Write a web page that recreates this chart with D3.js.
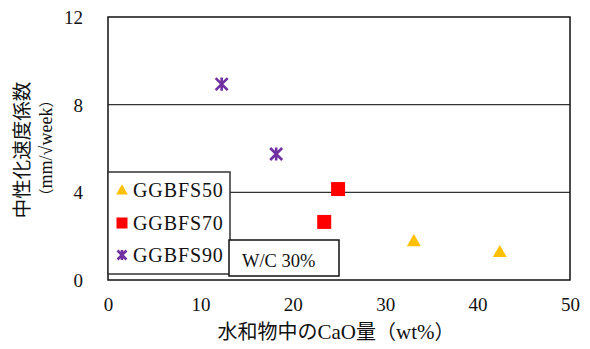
<!DOCTYPE html>
<html><head><meta charset="utf-8">
<script src="https://cdn.jsdelivr.net/npm/d3@7"></script>
<style>body{margin:0;background:#fff;} svg{display:block;}</style>
</head><body>
<script>
const xTicks = [0, 10, 20, 30, 40, 50];
const yTicks = [0, 4, 8, 12];
const gridValues = [4, 8];
const seriesNames = ["GGBFS50", "GGBFS70", "GGBFS90"];
const ggbfs50X = [33.1, 42.4], ggbfs50Y = [1.73, 1.23];
const ggbfs70X = [24.9, 23.4], ggbfs70Y = [4.15, 2.65];
const ggbfs90X = [12.3, 18.2], ggbfs90Y = [8.94, 5.75];
const noteText = "W/C 30%";

const W = 590, H = 349;
const m = {l:108, r:570, t:17, b:280};
const serif = "'Liberation Serif','DejaVu Serif',serif";
const cjk = "'Noto Sans CJK JP','Noto Sans CJK SC',sans-serif";
const svg = d3.select("body").append("svg").attr("width", W).attr("height", H);
const x = d3.scaleLinear().domain([0,50]).range([m.l, m.r]);
const y = d3.scaleLinear().domain([0,12]).range([m.b, m.t]);

// gridlines
svg.append("g").selectAll("line").data(gridValues).join("line")
  .attr("x1", m.l).attr("x2", m.r).attr("y1", d=>y(d)).attr("y2", d=>y(d))
  .attr("stroke", "#333").attr("stroke-width", 1.3);

// frame
svg.append("rect").attr("x", m.l).attr("y", m.t).attr("width", m.r-m.l).attr("height", m.b-m.t)
  .attr("fill","none").attr("stroke","#111").attr("stroke-width",1.5);

// axes (labels only)
const xAxis = d3.axisBottom(x).tickValues(xTicks).tickSize(0).tickPadding(0);
const gx = svg.append("g").attr("transform", `translate(0,${m.b+31})`).call(xAxis);
gx.select(".domain").remove();
gx.selectAll("text").attr("dy", 0).attr("font-family", serif).attr("font-size", 19).attr("fill","#111");
const yAxis = d3.axisLeft(y).tickValues(yTicks).tickSize(0).tickPadding(0);
const gy = svg.append("g").attr("transform", `translate(83,0)`).call(yAxis);
gy.select(".domain").remove();
gy.selectAll("text").attr("dy", "0.34em").attr("font-family", serif).attr("font-size", 19).attr("fill","#111");

// markers
const colors = {tri:"#FFC000", sq:"#FF0000", star:"#7030A0"};
function tri(g, cx, cy, s){ g.append("path").attr("d", d3.symbol(d3.symbolTriangle, s)()).attr("transform",`translate(${cx},${cy})`).attr("fill",colors.tri); }
function sq(g, cx, cy, s){ g.append("rect").attr("x",cx-s/2).attr("y",cy-s/2).attr("width",s).attr("height",s).attr("fill",colors.sq); }
function star(g, cx, cy, r){
  g.append("path").attr("d",`M${cx-r},${cy-r}L${cx+r},${cy+r}M${cx-r},${cy+r}L${cx+r},${cy-r}M${cx},${cy-r*1.1}L${cx},${cy+r*1.1}`)
   .attr("stroke",colors.star).attr("stroke-width",2.6).attr("fill","none");
}
const pts = svg.append("g");
ggbfs50X.forEach((d,i)=>tri(pts, x(d), y(ggbfs50Y[i]), 85));
ggbfs70X.forEach((d,i)=>sq(pts, x(d), y(ggbfs70Y[i]), 14));
ggbfs90X.forEach((d,i)=>star(pts, x(d), y(ggbfs90Y[i]), 6));

// legend
const lg = svg.append("g");
lg.append("rect").attr("x", m.l).attr("y", 172).attr("width", 122).attr("height", 102)
  .attr("fill","#fff").attr("stroke","#333").attr("stroke-width",1.5);
const legY = [190, 223, 255];
tri(lg, 122, legY[0]+1, 60);
sq(lg, 122, legY[1], 11);
star(lg, 122, legY[2], 4.5);
lg.selectAll("text.leg").data(seriesNames).join("text").attr("class","leg")
  .attr("x", 133).attr("y", (d,i)=>legY[i]+7)
  .attr("font-family", serif).attr("font-size", 20).attr("letter-spacing", 0.9).attr("fill","#111")
  .text(d=>d);

// note box
svg.append("rect").attr("x", 229).attr("y", 240).attr("width", 110).attr("height", 36)
  .attr("fill","#fff").attr("stroke","#111").attr("stroke-width",1.5);
svg.append("text").attr("x", 242).attr("y", 267).attr("font-family", serif).attr("font-size", 18.5).attr("fill","#111").text(noteText);

// x axis title
const xt = svg.append("text").attr("x", 336).attr("y", 339).attr("text-anchor","middle").attr("fill","#111").attr("font-size", 20);
xt.append("tspan").attr("font-family", cjk).text("水和物中の");
xt.append("tspan").attr("font-family", serif).attr("font-size",21).text("CaO");
xt.append("tspan").attr("font-family", cjk).text("量（");
xt.append("tspan").attr("font-family", serif).attr("font-size",21).text("wt%");
xt.append("tspan").attr("font-family", cjk).text("）");

// y axis title
svg.append("text").attr("transform","translate(29,150) rotate(-90)").attr("text-anchor","middle")
  .attr("font-family", cjk).attr("font-size", 19.5).attr("fill","#111").text("中性化速度係数");
const yt2 = svg.append("text").attr("transform","translate(52,148) rotate(-90)").attr("text-anchor","middle").attr("fill","#111").attr("font-size",15);
yt2.append("tspan").attr("font-family", cjk).text("（");
yt2.append("tspan").attr("font-family", serif).attr("font-size",18).text("mm/√week");
yt2.append("tspan").attr("font-family", cjk).text("）");
</script>
</body></html>
